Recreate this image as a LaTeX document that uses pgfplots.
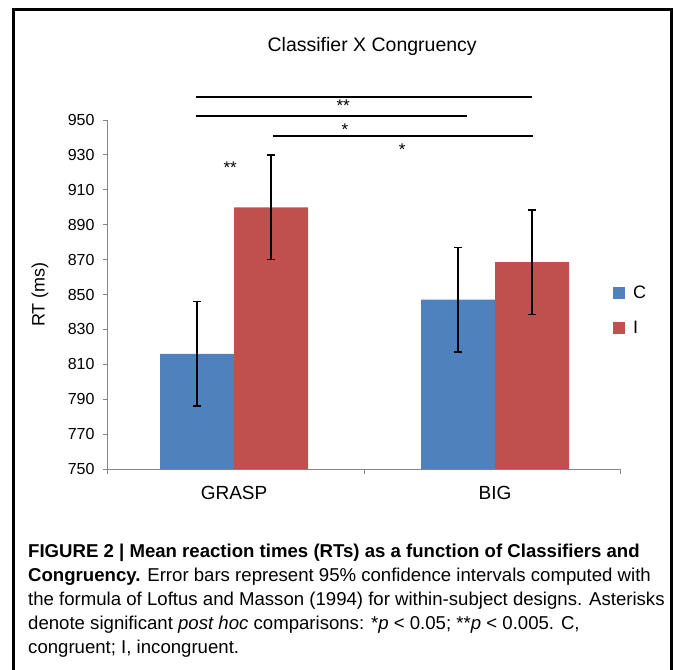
\documentclass[border=0pt]{standalone}
\usepackage{fontspec}
\setmainfont{Liberation Sans}
\usepackage{pgfplots}
\pgfplotsset{compat=1.18}
\definecolor{barC}{RGB}{79,129,189}
\definecolor{barI}{RGB}{192,80,77}
\definecolor{axisgray}{RGB}{134,134,134}

\begin{document}
\begin{tikzpicture}
\useasboundingbox (0,0) rectangle (673pt,-670pt);
% frame round the figure, open at the bottom
\draw[line width=3pt] (13pt,-676pt) -- (13pt,-9pt) -- (671pt,-9pt) -- (671pt,-676pt);
\begin{axis}[
    at={(108pt,-469pt)}, anchor=south west,
    scale only axis, width=512pt, height=349pt,
    xmin=-0.483, xmax=1.479, ymin=750, ymax=950,
    ybar=0pt, bar width=74pt,
    axis x line*=bottom, axis y line*=left,
    axis line style={draw=axisgray, line width=1pt, -},
    tick align=outside, major tick length=5pt,
    tick style={draw=axisgray, line width=1pt},
    ytick={750,770,...,950},
    xtick={-0.483,0.5,1.479}, xticklabels={},
    extra x ticks={0,1}, extra x tick labels={GRASP,BIG},
    extra x tick style={major tick length=0pt},
    /pgf/number format/assume math mode=true,
    /pgf/number format/1000 sep={},
    yticklabel style={font=\fontsize{16}{16}\selectfont, xshift=-5pt},
    xticklabel style={font=\fontsize{19}{19}\selectfont, yshift=-14pt},
    every axis title shift=0pt,
    title={Classifier X Congruency},
    title style={at={(axis description cs:0.516,1.195)}, anchor=base, font=\fontsize{19.5}{19.5}\selectfont},
    ylabel={RT (ms)},
    ylabel style={at={(axis description cs:-0.133,0.5)}, anchor=center, font=\fontsize{18}{18}\selectfont},
    legend style={at={(axis description cs:0.986,0.524)}, anchor=north west, draw=none, fill=none,
        inner sep=0pt, nodes={inner sep=0pt}, column sep=8pt, row sep=21pt,
        font=\fontsize{18}{18}\selectfont},
    legend cell align=left,
    clip=false,
]
\addplot[fill=barC, draw=none,
    legend image code/.code={\fill[barC] (0pt,-6pt) rectangle (12pt,6pt);},
    error bars/.cd, y dir=both, y explicit,
    error bar style={draw=black, line width=1.5pt},
    error mark options={draw=black, rotate=90, mark size=3.8pt, line width=1.5pt}]
    coordinates {(0,816) +- (0,30) (1,847) +- (0,30)};
\addplot[fill=barI, draw=none,
    legend image code/.code={\fill[barI] (0pt,-6pt) rectangle (12pt,6pt);},
    error bars/.cd, y dir=both, y explicit,
    error bar style={draw=black, line width=1.5pt},
    error mark options={draw=black, rotate=90, mark size=3.8pt, line width=1.5pt}]
    coordinates {(0,900) +- (0,30) (1,868.5) +- (0,30)};
\legend{C,I}
% significance brackets
\draw[line width=1.8pt] (axis cs:-0.146,963.2) -- (axis cs:1.142,963.2);
\draw[line width=1.8pt] (axis cs:-0.146,952.3) -- (axis cs:0.893,952.3);
\draw[line width=1.8pt] (axis cs:0.149,940.8) -- (axis cs:1.146,940.8);
\node[anchor=base, inner sep=0pt, font=\fontsize{17}{17}\selectfont] at (axis cs:0.418,954.6) {**};
\node[anchor=base, inner sep=0pt, font=\fontsize{17}{17}\selectfont] at (axis cs:0.425,941.4) {*};
\node[anchor=base, inner sep=0pt, font=\fontsize{17}{17}\selectfont] at (axis cs:0.644,929.9) {*};
\node[anchor=base, inner sep=0pt, font=\fontsize{17}{17}\selectfont] at (axis cs:-0.015,919.1) {**};
\end{axis}
\node[anchor=north west, inner sep=0pt, align=left, font=\fontsize{18.6}{24}\selectfont] at (28pt,-543.5pt)
{\textbf{FIGURE 2 | Mean reaction times (RTs) as a function of Classifiers and}\\
\textbf{Congruency.} Error bars represent 95\% confidence intervals computed with\\
the formula of Loftus and Masson (1994) for within-subject designs. Asterisks\\
denote significant \textit{post hoc} comparisons: *\textit{p} < 0.05; **\textit{p} < 0.005. C,\\
congruent; I, incongruent.};
\end{tikzpicture}
\end{document}
